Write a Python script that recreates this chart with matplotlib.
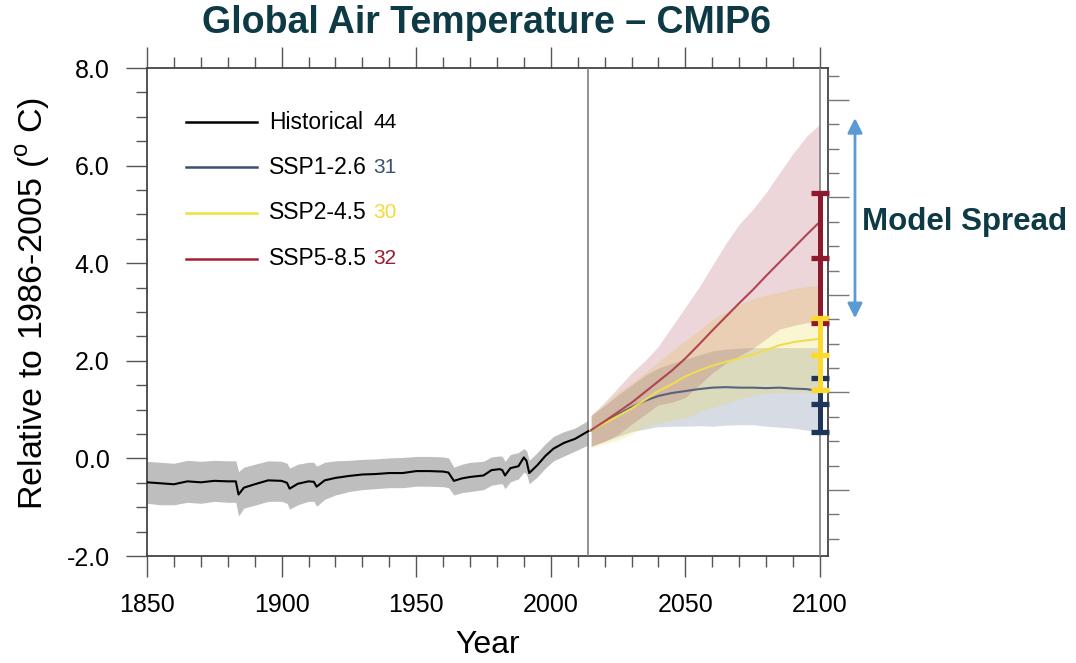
import numpy as np
import matplotlib
matplotlib.use("Agg")
import matplotlib.pyplot as plt
from matplotlib.ticker import MultipleLocator, FormatStrFormatter
from matplotlib.lines import Line2D

plt.rcParams['font.family'] = ['Liberation Sans', 'DejaVu Sans']
plt.rcParams['mathtext.fontset'] = 'custom'
plt.rcParams['mathtext.rm'] = 'Liberation Sans'
plt.rcParams['axes.unicode_minus'] = False

# historical multi-model mean and spread
hist_years = [1850, 1855, 1860, 1865, 1870, 1875, 1880, 1883, 1884, 1886,
              1890, 1895, 1900, 1902, 1903, 1906, 1910, 1912, 1913, 1916,
              1920, 1925, 1930, 1935, 1940, 1945, 1950, 1955, 1960, 1962,
              1964, 1967, 1970, 1975, 1978, 1981, 1982, 1983, 1985, 1988,
              1990, 1991, 1992, 1995, 1998, 2001, 2005, 2009, 2014]
hist_mean = [-0.49, -0.51, -0.53, -0.47, -0.49, -0.46, -0.47, -0.47, -0.74, -0.60,
             -0.53, -0.45, -0.46, -0.50, -0.62, -0.52, -0.47, -0.48, -0.58, -0.45,
             -0.40, -0.36, -0.33, -0.32, -0.30, -0.30, -0.26, -0.26, -0.27, -0.29,
             -0.46, -0.41, -0.38, -0.35, -0.24, -0.22, -0.24, -0.35, -0.20, -0.16,
             0.02, -0.05, -0.30, -0.14, 0.05, 0.20, 0.32, 0.40, 0.56]
hist_hi = [-0.06, -0.08, -0.10, -0.04, -0.06, -0.04, -0.05, -0.05, -0.27, -0.18,
           -0.12, -0.05, -0.06, -0.10, -0.20, -0.12, -0.08, -0.08, -0.16, -0.08,
           -0.05, -0.04, -0.02, -0.01, 0.01, 0.02, 0.04, 0.04, 0.03, 0.01,
           -0.18, -0.12, -0.08, -0.06, 0.03, 0.05, 0.04, -0.06, 0.08, 0.12,
           0.20, 0.16, -0.04, 0.12, 0.30, 0.45, 0.55, 0.62, 0.78]
hist_lo = [-0.92, -0.95, -0.95, -0.90, -0.92, -0.88, -0.90, -0.90, -1.18, -1.02,
           -0.96, -0.88, -0.88, -0.92, -1.04, -0.95, -0.88, -0.88, -0.98, -0.84,
           -0.75, -0.68, -0.64, -0.62, -0.60, -0.60, -0.57, -0.57, -0.58, -0.60,
           -0.75, -0.70, -0.68, -0.64, -0.55, -0.52, -0.52, -0.62, -0.48, -0.42,
           -0.28, -0.32, -0.52, -0.38, -0.20, -0.05, 0.05, 0.15, 0.28]

# scenarios
fut_years = [2015, 2020, 2025, 2030, 2035, 2040, 2045, 2050, 2055,
             2060, 2065, 2070, 2075, 2080, 2085, 2090, 2095, 2100]
ssp126_mean = [0.57, 0.73, 0.90, 1.05, 1.18, 1.28, 1.34, 1.38, 1.42,
               1.45, 1.46, 1.45, 1.45, 1.44, 1.45, 1.43, 1.42, 1.38]
ssp126_hi = [0.88, 1.08, 1.30, 1.50, 1.70, 1.85, 1.95, 2.03, 2.12,
             2.20, 2.24, 2.26, 2.27, 2.27, 2.27, 2.27, 2.27, 2.27]
ssp126_lo = [0.25, 0.35, 0.45, 0.55, 0.60, 0.65, 0.66, 0.66, 0.67,
             0.66, 0.68, 0.69, 0.69, 0.66, 0.64, 0.62, 0.58, 0.55]
ssp245_mean = [0.57, 0.72, 0.87, 1.02, 1.20, 1.38, 1.52, 1.68, 1.80,
               1.90, 1.98, 2.05, 2.13, 2.22, 2.32, 2.38, 2.42, 2.45]
ssp245_hi = [0.88, 1.10, 1.35, 1.55, 1.75, 1.98, 2.20, 2.41, 2.62,
             2.85, 3.00, 3.15, 3.27, 3.35, 3.40, 3.48, 3.52, 3.55]
ssp245_lo = [0.22, 0.30, 0.38, 0.50, 0.65, 0.72, 0.78, 0.82, 0.95,
             1.05, 1.12, 1.22, 1.30, 1.33, 1.35, 1.35, 1.36, 1.35]
ssp585_mean = [0.58, 0.76, 0.95, 1.14, 1.36, 1.58, 1.80, 2.05, 2.33,
               2.62, 2.90, 3.18, 3.45, 3.74, 4.02, 4.30, 4.58, 4.85]
ssp585_hi = [0.88, 1.15, 1.45, 1.75, 2.00, 2.30, 2.70, 3.10, 3.50,
             3.95, 4.40, 4.80, 5.10, 5.45, 5.85, 6.25, 6.60, 6.85]
ssp585_lo = [0.25, 0.35, 0.49, 0.70, 0.90, 1.10, 1.15, 1.25, 1.50,
             1.75, 1.95, 2.10, 2.25, 2.45, 2.65, 2.72, 2.78, 2.80]

# model spread bars at 2100 (low, mid, high)
spread_year = 2100
spread_126 = [0.55, 1.11, 1.64]
spread_245 = [1.40, 2.12, 2.88]
spread_585 = [2.78, 4.11, 5.44]

legend_labels = ['Historical', 'SSP1-2.6', 'SSP2-4.5', 'SSP5-8.5']
legend_counts = ['44', '31', '30', '32']

fig = plt.figure(figsize=(10.76, 6.63), dpi=100)
ax = fig.add_axes([147 / 1076, 1 - 556 / 663, 681 / 1076, 488 / 663])

ax.fill_between(hist_years, hist_lo, hist_hi, color='#bebebe', lw=0, zorder=2)
ax.plot(hist_years, hist_mean, color='black', lw=1.5, zorder=5)

ax.fill_between(fut_years, ssp126_lo, ssp126_hi, color=(0.25, 0.35, 0.5), alpha=0.21, lw=0, zorder=2)
ax.fill_between(fut_years, ssp245_lo, ssp245_hi, color=(0.93, 0.85, 0.2), alpha=0.22, lw=0, zorder=2)
ax.fill_between(fut_years, ssp585_lo, ssp585_hi, color=(0.62, 0.12, 0.2), alpha=0.18, lw=0, zorder=2)
ax.plot(fut_years, ssp126_mean, color='#56647e', lw=1.5, zorder=5)
ax.plot(fut_years, ssp245_mean, color='#f0dc50', lw=1.5, zorder=5)
ax.plot(fut_years, ssp585_mean, color='#b04550', lw=1.5, zorder=5)

ax.axvline(2014, color='#7f7f7f', lw=1.2, zorder=3)
ax.axvline(2100, color='#7f7f7f', lw=1.2, zorder=3)

# spread bars
for vals, col in [(spread_126, '#1f3459'), (spread_585, '#8c1a2c'), (spread_245, '#fcd92c')]:
    ax.plot([spread_year, spread_year], [vals[0], vals[2]], color=col, lw=3.6,
            solid_capstyle='round', zorder=6, clip_on=False)
    ax.plot([spread_year] * 3, vals, ls='none', marker='_', ms=13, mew=3.8,
            color=col, zorder=6, clip_on=False)

ax.set_xlim(1850, 2103)
ax.set_ylim(-2, 8)
ax.xaxis.set_major_locator(MultipleLocator(50))
ax.xaxis.set_minor_locator(MultipleLocator(10))
ax.yaxis.set_major_locator(MultipleLocator(2))
ax.yaxis.set_minor_locator(MultipleLocator(0.5))
ax.yaxis.set_major_formatter(FormatStrFormatter('%.1f'))
ax.tick_params(which='both', direction='out', top=True, right=False, color='#555555',
               width=1, labelsize=18, pad=12)
ax.tick_params(which='major', length=15)
ax.tick_params(which='minor', length=8)
for sp in ax.spines.values():
    sp.set_color('#444444')
    sp.set_linewidth(1.3)

# right-hand tick axis
ax2 = ax.twinx()
ax2.set_ylim(-0.677, 4.328)
ax2.yaxis.set_major_locator(MultipleLocator(1))
ax2.yaxis.set_minor_locator(MultipleLocator(0.25))
ax2.tick_params(which='both', direction='out', color='#777777', width=1, labelright=False)
ax2.tick_params(which='major', length=15)
ax2.tick_params(which='minor', length=8)
for t in ax2.yaxis.get_major_ticks():
    if t.get_loc() in (1, 3):
        t.tick2line.set_color('black')
for sp in ax2.spines.values():
    sp.set_visible(False)

# legend
y_rows = [0.889, 0.797, 0.703, 0.609]
line_cols = ['black', '#3d4f70', '#f3e03c', '#a51d35']
num_cols = ['black', '#3b5173', '#f2dc3a', '#9e1b32']
for yr, lab, num, lc, nc in zip(y_rows, legend_labels, legend_counts, line_cols, num_cols):
    ax.add_line(Line2D([0.057, 0.1615], [yr, yr], transform=ax.transAxes, color=lc, lw=1.8))
    ax.text(0.179, yr, lab, transform=ax.transAxes, fontsize=16.5, va='center', ha='left')
    ax.text(0.332, yr, num, transform=ax.transAxes, fontsize=15, va='center', ha='left', color=nc)

fig.text(0.4517, 0.965, 'Global Air Temperature \u2013 CMIP6', ha='center', va='center',
         fontsize=27, fontweight='bold', color='#0d3a44')
fig.text(0.4533, 0.027, 'Year', ha='center', va='center', fontsize=23)
fig.text(0.0307, 0.543, 'Relative to 1986-2005 ($^{\\mathrm{o}}$ C)', rotation=90,
         ha='center', va='center', fontsize=24.5)

ax.annotate('', xy=(0.7946, 0.822), xytext=(0.7946, 0.520), xycoords='figure fraction',
            textcoords='figure fraction',
            arrowprops=dict(arrowstyle='<|-|>', color='#5b9bd5', lw=2, mutation_scale=22,
                            shrinkA=0, shrinkB=0))
fig.text(0.801, 0.665, 'Model Spread', ha='left', va='center', fontsize=22.5,
         fontweight='bold', color='#0d3a44')

fig.savefig('out.png', dpi=100)
